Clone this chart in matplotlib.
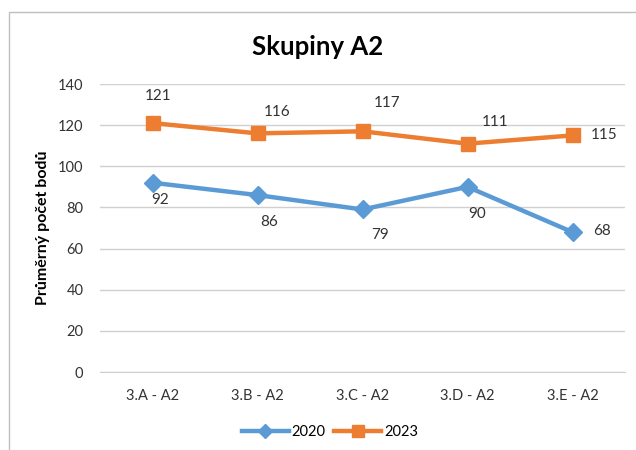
import matplotlib
matplotlib.use('Agg')
import matplotlib.pyplot as plt
from matplotlib.patches import Rectangle

plt.rcParams['font.family'] = ['Lato', 'DejaVu Sans']

# 데이터
tridy = ['3.A - A2', '3.B - A2', '3.C - A2', '3.D - A2', '3.E - A2']
body_2020 = [92, 86, 79, 90, 68]
body_2023 = [121, 116, 117, 111, 115]

# 라벨 위치 (pixel offset)
off_2020 = [(8, -17), (12, -27), (17, -26), (10, -27), (29, 1)]
off_2023 = [(6, 27), (20, 21), (25, 28), (28, 22), (32, 0)]

modra = '#5B9BD5'
oranzova = '#ED7D31'

fig = plt.figure(figsize=(6.36, 4.5), dpi=100)
ax = fig.add_axes([100 / 636, 1 - 372 / 450, 525 / 636, 288 / 450])

x = list(range(len(tridy)))
ax.plot(x, body_2020, color=modra, lw=3.2, marker='D', markersize=9, label='2020', zorder=3)
ax.plot(x, body_2023, color=oranzova, lw=3.2, marker='s', markersize=10.5, label='2023', zorder=3)

for i, v in enumerate(body_2020):
    ax.annotate(str(v), (i, v), xytext=off_2020[i], textcoords='offset pixels',
                ha='center', va='center', fontsize=11, color='#333333')
for i, v in enumerate(body_2023):
    ax.annotate(str(v), (i, v), xytext=off_2023[i], textcoords='offset pixels',
                ha='center', va='center', fontsize=11, color='#333333')

ax.set_xlim(-0.5, 4.5)
ax.set_ylim(0, 140)
ax.set_yticks(range(0, 141, 20))
ax.set_xticks(x)
ax.set_xticklabels(tridy)
ax.grid(axis='y', color='#D0D0D0', lw=1)
ax.set_axisbelow(True)
for s in ['top', 'right', 'left']:
    ax.spines[s].set_visible(False)
ax.spines['bottom'].set_color('#D0D0D0')
ax.tick_params(length=0, labelsize=10.5, colors='#333333')
ax.tick_params(axis='y', pad=12)
ax.tick_params(axis='x', pad=12)

ax.set_ylabel('Průměrný počet bodů', fontsize=11.5, fontweight='bold', labelpad=6)
fig.text(318 / 636, 1 - 47 / 450, 'Skupiny A2', ha='center', va='center',
         fontsize=18.5, fontweight='bold')

fig.legend(loc='center', bbox_to_anchor=(330 / 636, 1 - 432 / 450), ncol=2, frameon=False,
           fontsize=10.5, handlelength=3.2, columnspacing=0.6, handletextpad=0.2,
           markerscale=0.8)

# 테두리
fig.patches.append(Rectangle((9 / 636, -0.1), 1.2, 1 - 12 / 450 + 0.1, transform=fig.transFigure,
                             fill=False, edgecolor='#BFBFBF', lw=1))

fig.savefig('out.png', dpi=100)
